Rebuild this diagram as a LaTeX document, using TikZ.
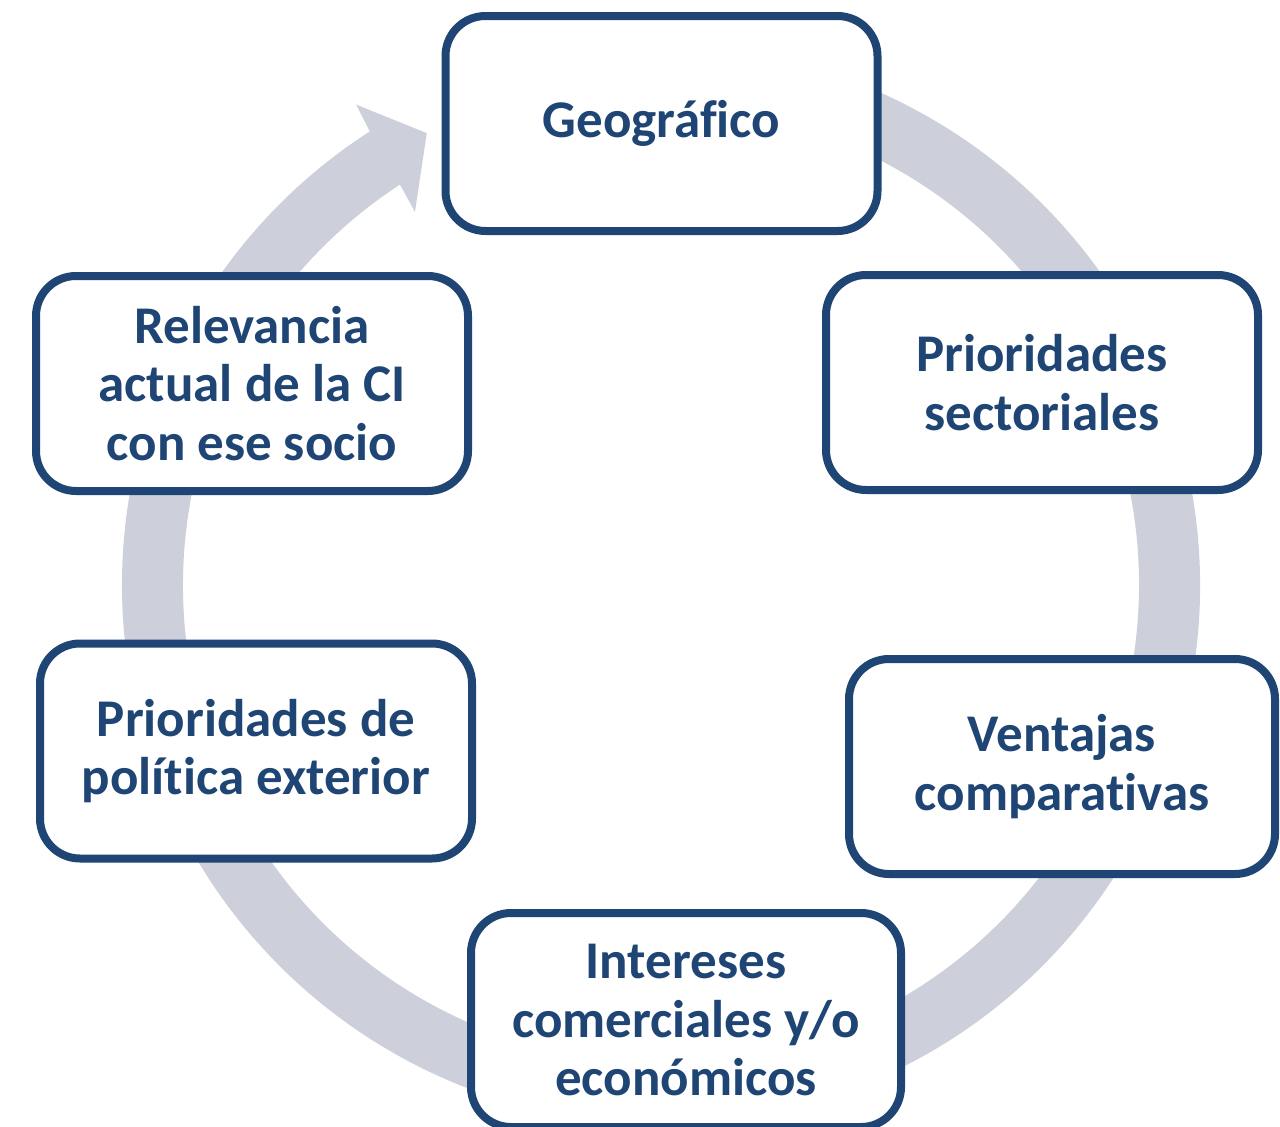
\documentclass[tikz,border=0pt]{standalone}
\usepackage{fontspec}
\setmainfont{Carlito}[Ligatures={NoCommon}]
\usetikzlibrary{shadows}
\definecolor{boxblue}{HTML}{1F4574}
\definecolor{ringgray}{HTML}{CDD0DA}
\begin{document}
\begin{tikzpicture}[x=1pt,y=-1pt,
  stage/.style={draw=boxblue, line width=8pt, fill=white, rounded corners=40pt,
    minimum width=432pt, minimum height=215pt, align=center, text=boxblue,
    font=\bfseries\fontsize{53}{58.5}\selectfont,
    drop shadow={shadow xshift=1.5pt, shadow yshift=-3pt, opacity=0.25, fill=black}}]
\useasboundingbox (0,0) rectangle (1280,1127);
\fill[white] (0,0) rectangle (1280,1127);
% circular arrow
\begin{scope}[shift={(661,585)}, yscale=-1]
\fill[ringgray] (100:539) arc[start angle=100, end angle=-237.3, radius=539]
  -- (-237.6:569) -- (-242.6:509) -- (-236.6:447) -- (-236.9:478)
  arc[start angle=-236.9, end angle=100, radius=478] -- cycle;
\end{scope}
% stages
\node[stage] (geo) at (661.5,123.5) {Geográfico};
\node[stage] (sect) at (1042,382.5) {Prioridades\\sectoriales};
\node[stage, minimum width=426pt] (vent) at (1062,766.5) {Ventajas\\comparativas};
\node[stage, minimum width=430pt, minimum height=214pt] (inter) at (686,1020) {Intereses\\comerciales y/o\\económicos};
\node[stage] (pol) at (256,751) {Prioridades de\\política exterior};
\node[stage] (rel) at (252,383.5) {Relevancia\\actual de la CI\\con ese socio};
\end{tikzpicture}
\end{document}
